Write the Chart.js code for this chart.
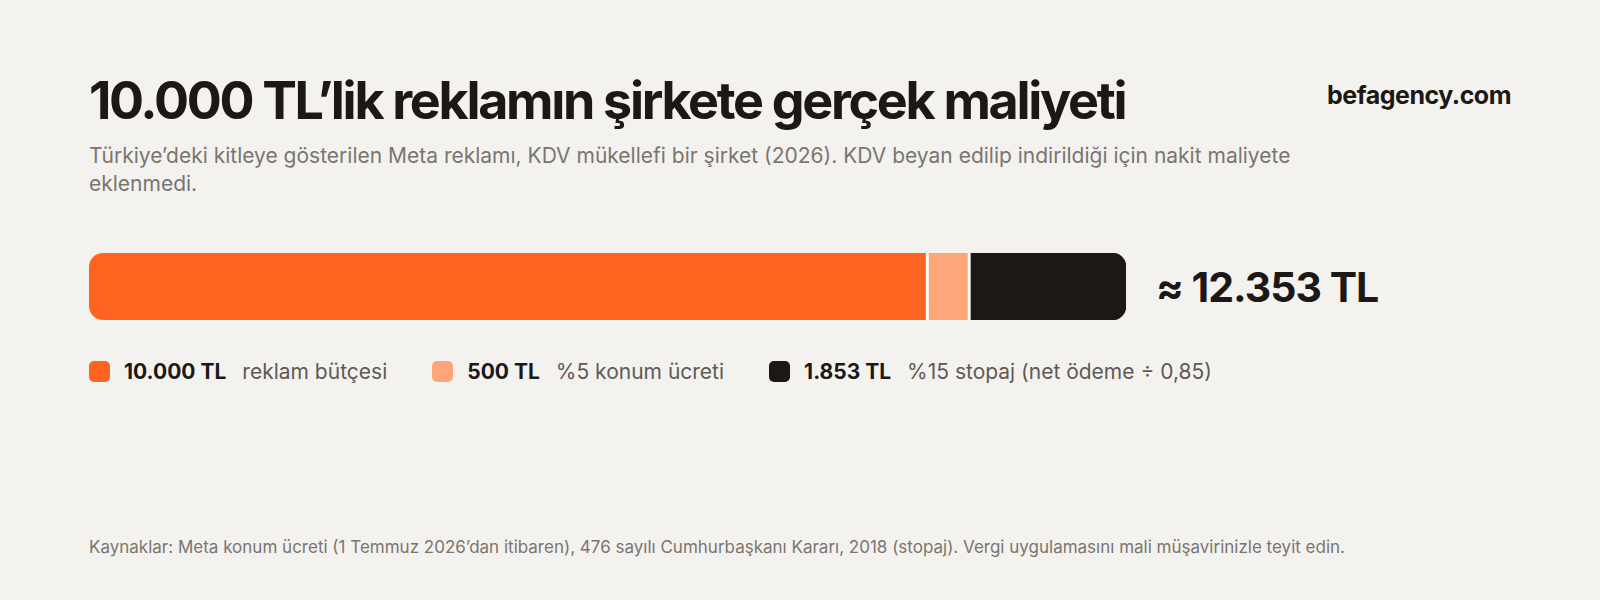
<!DOCTYPE html>
<html><head><meta charset="utf-8">
<script src="https://cdn.jsdelivr.net/npm/chart.js@4"></script>
<style>
body{margin:0;width:1600px;height:600px;background:#f4f2ee;font-family:Inter,"Noto Sans",sans-serif;position:relative;overflow:hidden;color:#1b1815}
.t{position:absolute;left:89px;top:69px;font-size:52px;font-weight:700;letter-spacing:-2.3px}
.b{position:absolute;right:89px;top:80px;font-size:25px;font-weight:700;letter-spacing:-0.5px}
.s{position:absolute;left:89px;top:142px;width:1260px;font-size:21px;line-height:28px;color:#7a7571}
.tot{position:absolute;left:1156px;top:262px;font-size:41px;font-weight:700;letter-spacing:-1px}
#wrap{position:absolute;left:89px;top:253px;width:1037px;height:67px}
.lg{position:absolute;top:359px;left:89px;display:flex;font-size:21px;align-items:center}
.it{display:flex;align-items:center;margin-right:45px}
.sw{width:21px;height:21px;border-radius:5px;margin-right:14px}
.it b{margin-right:16px}.it span{color:#5f5a56}
.f{position:absolute;left:89px;top:537px;font-size:17px;color:#7a7571}
</style></head><body>
<div class="t">10.000 TL’lik reklamın şirkete gerçek maliyeti</div>
<div class="b">befagency.com</div>
<div class="s">Türkiye’deki kitleye gösterilen Meta reklamı, KDV mükellefi bir şirket (2026). KDV beyan edilip indirildiği için nakit maliyete eklenmedi.</div>
<div id="wrap"><canvas id="c"></canvas></div>
<div class="tot">≈ 12.353 TL</div>
<div class="lg" id="lg"></div>
<div class="f">Kaynaklar: Meta konum ücreti (1 Temmuz 2026’dan itibaren), 476 sayılı Cumhurbaşkanı Kararı, 2018 (stopaj). Vergi uygulamasını mali müşavirinizle teyit edin.</div>
<script>
const categories=["maliyet"];
const labels=["10.000 TL","500 TL","1.853 TL"];
const descs=["reklam bütçesi","%5 konum ücreti","%15 stopaj (net ödeme ÷ 0,85)"];
const values=[10000,500,1853];
const colors=["#ff6320","#ffa57a","#1b1815"];
const total=12353;
const lg=document.getElementById('lg');
labels.forEach((l,i)=>{lg.innerHTML+=`<div class="it"><div class="sw" style="background:${colors[i]}"></div><b>${l}</b><span>${descs[i]}</span></div>`});
const R=14;
new Chart(document.getElementById('c'),{type:'bar',
data:{labels:categories,datasets:values.map((v,i)=>({data:[v],backgroundColor:colors[i],
borderColor:'#ffffff',borderWidth:i<2?{right:3,left:0,top:0,bottom:0}:0,borderSkipped:false,
borderRadius:i==0?{topLeft:R,bottomLeft:R}:i==2?{topRight:R,bottomRight:R}:0,
barPercentage:1,categoryPercentage:1}))},
options:{indexAxis:'y',responsive:true,maintainAspectRatio:false,animation:false,
layout:{padding:0},
plugins:{legend:{display:false},tooltip:{enabled:false}},
scales:{x:{stacked:true,display:false,min:0,max:total},y:{stacked:true,display:false}}}});
</script></body></html>
